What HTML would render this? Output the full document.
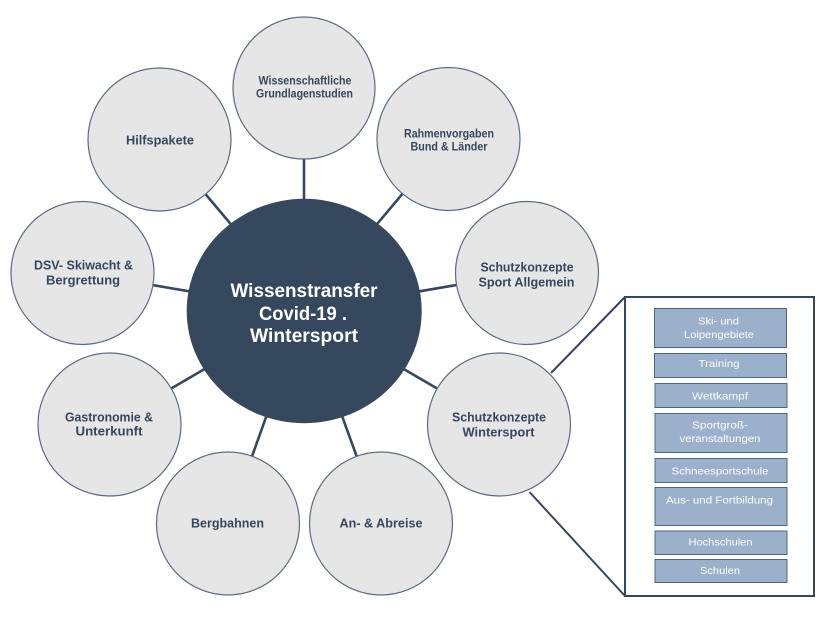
<!DOCTYPE html>
<html>
<head>
<meta charset="utf-8">
<style>
html,body{margin:0;padding:0;background:#fff;}
svg{display:block;}
.c{fill:#e6e6e6;stroke:#5b6b80;stroke-width:1.2;}
.t{font-family:"Liberation Sans",sans-serif;font-weight:bold;fill:#35475e;text-anchor:middle;font-size:12.5px;}
.ts{font-size:11.5px;}
.w{font-family:"Liberation Sans",sans-serif;font-weight:bold;fill:#fff;text-anchor:middle;font-size:19px;}
.b{fill:#9bb1cb;stroke:#4f6680;stroke-width:1;}
.bt{font-family:"Liberation Sans",sans-serif;fill:#fff;text-anchor:middle;font-size:10.5px;}
.ln{stroke:#36475e;stroke-width:2.6;}
</style>
</head>
<body>
<svg width="830" height="626" viewBox="0 0 830 626" xmlns="http://www.w3.org/2000/svg">
<rect width="830" height="626" fill="#fff"/>
<!-- connectors -->
<g class="ln">
<line x1="304" y1="311" x2="304" y2="88"/>
<line x1="304" y1="311" x2="448.5" y2="139"/>
<line x1="304" y1="311" x2="527" y2="273"/>
<line x1="304" y1="311" x2="499" y2="424.5"/>
<line x1="304" y1="311" x2="381" y2="523.5"/>
<line x1="304" y1="311" x2="228" y2="523.5"/>
<line x1="304" y1="311" x2="109.5" y2="424.5"/>
<line x1="304" y1="311" x2="82.5" y2="273"/>
<line x1="304" y1="311" x2="159.5" y2="139.5"/>
<line x1="551" y1="373" x2="625" y2="297" stroke-width="2"/>
<line x1="529.5" y1="492" x2="625" y2="596" stroke-width="2"/>
</g>
<!-- outer box -->
<rect x="625" y="297" width="189" height="299" fill="#fff" stroke="#36475e" stroke-width="2"/>
<!-- small circles -->
<circle class="c" cx="304" cy="88" r="71"/>
<circle class="c" cx="448.5" cy="139" r="71.5"/>
<circle class="c" cx="527" cy="273" r="71.5"/>
<circle class="c" cx="499" cy="424.5" r="71.5"/>
<circle class="c" cx="381" cy="523.5" r="71.5"/>
<circle class="c" cx="228" cy="523.5" r="71.5"/>
<circle class="c" cx="109.5" cy="424.5" r="71.5"/>
<circle class="c" cx="82.5" cy="273" r="71.5"/>
<circle class="c" cx="159.5" cy="139.5" r="71.5"/>
<!-- central -->
<ellipse cx="304.2" cy="311" rx="117.5" ry="112.2" fill="#36485e"/>
<text class="w" x="304" y="297" textLength="147" lengthAdjust="spacingAndGlyphs">Wissenstransfer</text>
<text class="w" x="303" y="320" textLength="88" lengthAdjust="spacingAndGlyphs">Covid-19 .</text>
<text class="w" x="304" y="342" textLength="108" lengthAdjust="spacingAndGlyphs">Wintersport</text>
<!-- labels -->
<text class="t ts" x="305" y="84.5" textLength="93" lengthAdjust="spacingAndGlyphs">Wissenschaftliche</text>
<text class="t ts" x="304.5" y="97.5" textLength="97" lengthAdjust="spacingAndGlyphs">Grundlagenstudien</text>
<text class="t ts" x="449" y="137.5" textLength="90" lengthAdjust="spacingAndGlyphs">Rahmenvorgaben</text>
<text class="t ts" x="449" y="150.5" textLength="77" lengthAdjust="spacingAndGlyphs">Bund &amp; Länder</text>
<text class="t" x="160" y="144.5" textLength="68" lengthAdjust="spacingAndGlyphs">Hilfspakete</text>
<text class="t" x="83.5" y="269.5" textLength="99" lengthAdjust="spacingAndGlyphs">DSV- Skiwacht &amp;</text>
<text class="t" x="83" y="284.5" textLength="74" lengthAdjust="spacingAndGlyphs">Bergrettung</text>
<text class="t" x="109" y="421.5" textLength="88" lengthAdjust="spacingAndGlyphs">Gastronomie &amp;</text>
<text class="t" x="109" y="435.5" textLength="67" lengthAdjust="spacingAndGlyphs">Unterkunft</text>
<text class="t" x="227.5" y="527.5" textLength="73" lengthAdjust="spacingAndGlyphs">Bergbahnen</text>
<text class="t" x="381" y="527.5" textLength="83" lengthAdjust="spacingAndGlyphs">An- &amp; Abreise</text>
<text class="t" x="499" y="421.5" textLength="94" lengthAdjust="spacingAndGlyphs">Schutzkonzepte</text>
<text class="t" x="498.5" y="436.5" textLength="72" lengthAdjust="spacingAndGlyphs">Wintersport</text>
<text class="t" x="527" y="271.5" textLength="93" lengthAdjust="spacingAndGlyphs">Schutzkonzepte</text>
<text class="t" x="526.5" y="286.5" textLength="96" lengthAdjust="spacingAndGlyphs">Sport Allgemein</text>
<!-- inner boxes -->
<rect class="b" x="654.5" y="308.5" width="132" height="39"/>
<rect class="b" x="654.5" y="353.5" width="132" height="24"/>
<rect class="b" x="655" y="383.5" width="132" height="24"/>
<rect class="b" x="655" y="413.5" width="132" height="39"/>
<rect class="b" x="655" y="458.5" width="132" height="24"/>
<rect class="b" x="655" y="487.5" width="132" height="38"/>
<rect class="b" x="655" y="531" width="132" height="23.5"/>
<rect class="b" x="655" y="559.5" width="132" height="23"/>
<text class="bt" x="718.5" y="324.5" textLength="41" lengthAdjust="spacingAndGlyphs">Ski- und</text>
<text class="bt" x="719" y="338" textLength="70" lengthAdjust="spacingAndGlyphs">Loipengebiete</text>
<text class="bt" x="719" y="367" textLength="41" lengthAdjust="spacingAndGlyphs">Training</text>
<text class="bt" x="720" y="399.5" textLength="56" lengthAdjust="spacingAndGlyphs">Wettkampf</text>
<text class="bt" x="720" y="428.5" textLength="56" lengthAdjust="spacingAndGlyphs">Sportgroß-</text>
<text class="bt" x="720" y="442" textLength="81" lengthAdjust="spacingAndGlyphs">veranstaltungen</text>
<text class="bt" x="720" y="474.5" textLength="97" lengthAdjust="spacingAndGlyphs">Schneesportschule</text>
<text class="bt" x="719.5" y="503.5" textLength="107" lengthAdjust="spacingAndGlyphs">Aus- und Fortbildung</text>
<text class="bt" x="720.5" y="545.5" textLength="64" lengthAdjust="spacingAndGlyphs">Hochschulen</text>
<text class="bt" x="720" y="574" textLength="40" lengthAdjust="spacingAndGlyphs">Schulen</text>
</svg>
</body>
</html>
